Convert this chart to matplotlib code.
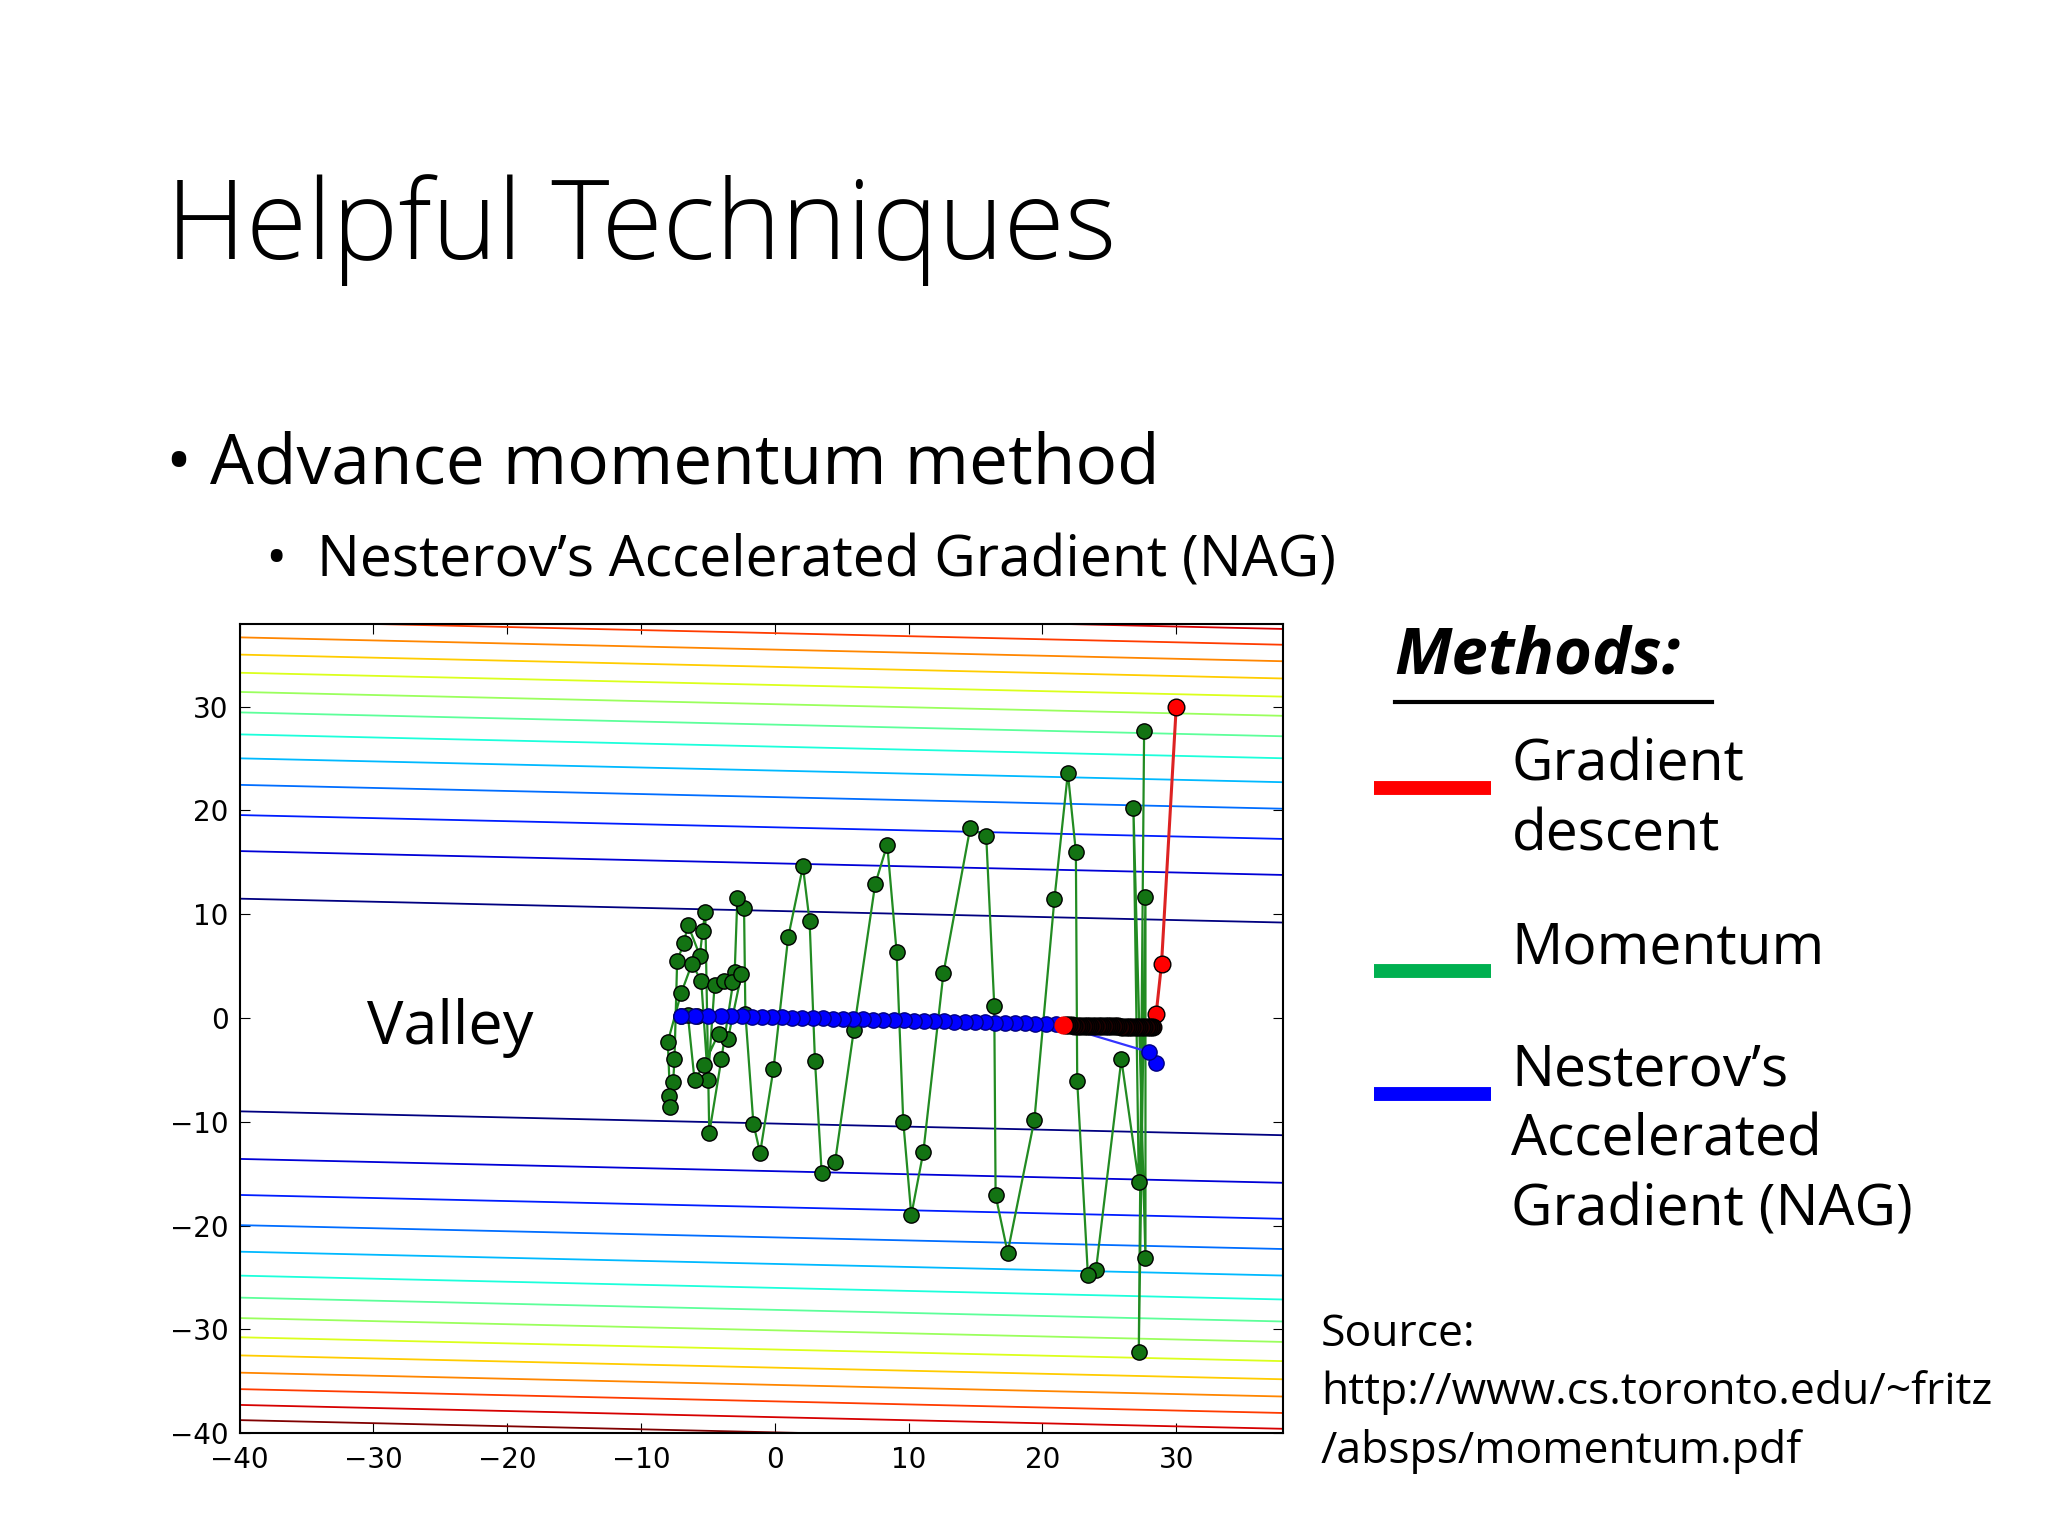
import numpy as np
import matplotlib
matplotlib.use("Agg")
import matplotlib.pyplot as plt
from matplotlib.lines import Line2D

FONT = ["Open Sans", "DejaVu Sans"]

mom_x = [27.6, 27.2, 27.7, 27.7, 26.8, 27.2, 25.9, 24.0, 23.4, 22.6, 22.5, 21.9, 20.9, 19.4, 17.4, 16.5, 16.4,
         15.8, 14.6, 12.6, 11.1, 10.2, 9.6, 9.1, 8.4, 7.5, 5.9, 4.5, 3.5, 3.0, 2.6, 2.1, 1.0, -0.1, -1.1, -1.6,
         -2.2, -2.3, -2.8, -3.0, -4.0, -4.9, -5.2, -5.4, -5.6, -6.5, -6.8, -7.3, -7.5, -7.6, -7.9, -7.8, -8.0,
         -7.0, -6.2, -5.5, -5.0, -4.5, -3.8, -3.2, -2.5, -3.5, -4.2, -5.3, -6.0, -6.5, -7.0, -5.8]
mom_y = [27.7, -32.2, 11.7, -23.1, 20.2, -15.8, -4.0, -24.3, -24.8, -6.1, 16.0, 23.6, 11.5, -9.8, -22.6, -17.1, 1.2,
         17.5, 18.3, 4.3, -12.9, -19.0, -10.0, 6.4, 16.7, 12.9, -1.2, -13.9, -14.9, -4.1, 9.3, 14.6, 7.8, -4.9, -13.0, -10.2,
         0.4, 10.6, 11.6, 4.4, -4.0, -11.1, 10.2, 8.4, 6.0, 9.0, 7.2, 5.5, -4.0, -6.2, -7.5, -8.6, -2.3,
         2.4, 5.2, 3.6, -6.0, 3.2, 3.6, 3.5, 4.2, -2.0, -1.5, -4.5, -6.0, 0.3, 0.2, 0.2]

nag_x = [28.5, 28.0] + list(np.round(np.linspace(21.0, -4.0, 34), 2)) + [-5.0, -6.0, -7.0]
nag_y = [-4.3, -3.3] + list(np.round(np.linspace(-0.6, 0.2, 34), 2)) + [0.2, 0.2, 0.2]

gd_x = [30.0, 28.9, 28.5] + list(np.round(np.linspace(28.3, 21.5, 40), 2))
gd_y = [30.0, 5.2, 0.4] + list(np.round(np.linspace(-0.9, -0.7, 40), 2))

xticks = [-40, -30, -20, -10, 0, 10, 20, 30]
yticks = [-40, -30, -20, -10, 0, 10, 20, 30]

fig = plt.figure(figsize=(20.48, 15.36), dpi=100)
fig.patch.set_facecolor("white")

fig.text(0.081, 0.85, "Helpful Techniques", fontsize=80, family=FONT, weight="light", va="center", ha="left")
fig.text(0.081, 0.697, "\u2022 Advance momentum method", fontsize=50, family=FONT, va="center", ha="left")
fig.text(0.13, 0.634, "\u2022  Nesterov\u2019s Accelerated Gradient (NAG)", fontsize=41, family=FONT, va="center", ha="left")

ax = fig.add_axes([0.117, 0.067, 0.5096, 0.527])
xs = np.linspace(-40, 38, 300)
ys = np.linspace(-40, 38, 300)
X, Y = np.meshgrid(xs, ys)
C = 1.25 - 0.0295 * (X + 40)
F = (Y - C) ** 2
levels = 105 + 115 * np.arange(14)
ax.contour(X, Y, F, levels=levels, cmap="jet", linewidths=1.3)

ax.plot(mom_x, mom_y, "-o", color="#228b22", mfc="#137313", mec="black", ms=11, lw=1.6, zorder=3)
ax.plot(nag_x, nag_y, "-o", color="#3333ff", mfc="#0000ff", mec="#000080", ms=11, lw=1.6, zorder=4)
ax.plot(gd_x, gd_y, "-", color="#dd2222", lw=2.2, zorder=5)
ax.plot(gd_x[:3], gd_y[:3], "o", mfc="#ff0000", mec="black", ms=12, zorder=6)
ax.plot(gd_x[3:-1], gd_y[3:-1], "o", mfc="#200000", mec="black", ms=12, zorder=6)
ax.plot(gd_x[-1:], gd_y[-1:], "o", mfc="#ff0000", mec="#ff0000", ms=12, zorder=7)

ax.text(-30.5, -1, "Valley", fontsize=44, family=FONT, va="center", ha="left")
ax.set_xlim(-40, 38)
ax.set_ylim(-40, 38)
ax.set_xticks(xticks)
ax.set_yticks(yticks)
ax.set_xticklabels([str(t).replace("-", "\u2212") for t in xticks], fontsize=20)
ax.set_yticklabels([str(t).replace("-", "\u2212") for t in yticks], fontsize=20)
ax.tick_params(axis="x", direction="in", length=7, top=True, pad=9)
ax.tick_params(axis="y", direction="in", length=7, right=True, pad=8)
for s in ax.spines.values():
    s.set_linewidth(1.5)

fig.text(0.681, 0.572, "Methods:", fontsize=47, weight="bold", style="italic", family=FONT, va="center")
fig.add_artist(Line2D([0.681, 0.836], [0.543, 0.543], color="black", lw=3))

legend_items = [("#ff0000", 0.487, "Gradient\ndescent"), ("#00b050", 0.368, "Momentum"),
                ("#0000ff", 0.288, "Nesterov\u2019s\nAccelerated\nGradient (NAG)")]
for col, yy, lab in legend_items:
    fig.add_artist(Line2D([0.671, 0.728], [yy, yy], color=col, lw=10, solid_capstyle="butt"))
    fig.text(0.738, yy + 0.033, lab, fontsize=41, family=FONT, va="top", ha="left", linespacing=1.3)

fig.text(0.645, 0.093, "Source:\nhttp://www.cs.toronto.edu/~fritz\n/absps/momentum.pdf", fontsize=32,
         family=FONT, va="center", ha="left", linespacing=1.4)

fig.savefig("out.png", dpi=100)
